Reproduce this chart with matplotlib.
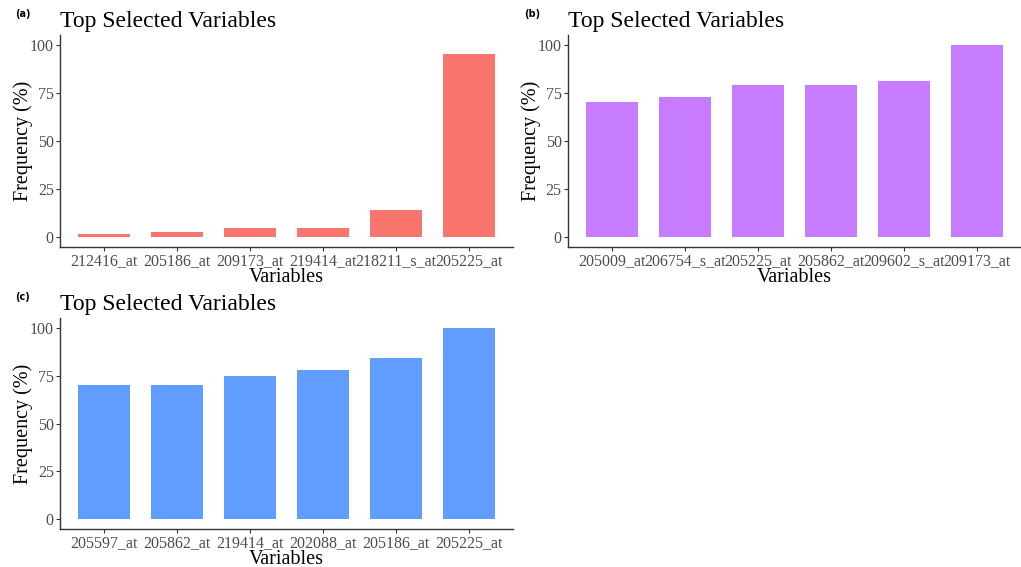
import numpy as np
import matplotlib
matplotlib.use('Agg')
import matplotlib.pyplot as plt

plt.rcParams['font.family'] = ['Liberation Serif', 'DejaVu Serif']

# ── Data ──
vars_a = ['212416_at', '205186_at', '209173_at', '219414_at', '218211_s_at', '205225_at']
freq_a = [2, 3, 5, 5, 14, 95]

vars_b = ['205009_at', '206754_s_at', '205225_at', '205862_at', '209602_s_at', '209173_at']
freq_b = [70, 73, 79, 79, 81, 100]

vars_c = ['205597_at', '205862_at', '219414_at', '202088_at', '205186_at', '205225_at']
freq_c = [70, 70, 75, 78, 84, 100]

W, H = 1021, 567
fig = plt.figure(figsize=(W / 100, H / 100), dpi=100)


def px_axes(x0, y0, x1, y1):
    # pixel box (top-left origin) -> figure fraction
    return fig.add_axes([x0 / W, 1 - y1 / H, (x1 - x0) / W, (y1 - y0) / H])


def panel(ax, names, vals, color, tag, tag_x, tag_y):
    pos = np.arange(1, len(names) + 1)
    ax.bar(pos, vals, width=0.71, color=color)
    ax.set_xlim(0.4, len(names) + 0.6)
    ax.set_ylim(-5, 105)
    ax.set_xticks(pos)
    ax.set_xticklabels(names, fontsize=11.5, color='#4D4D4D')
    ax.set_yticks([0, 25, 50, 75, 100])
    ax.set_yticklabels(['0', '25', '50', '75', '100'], fontsize=11.5, color='#4D4D4D')
    ax.tick_params(length=3, width=0.8, color='#333333', pad=1.5)
    for s in ['top', 'right']:
        ax.spines[s].set_visible(False)
    for s in ['left', 'bottom']:
        ax.spines[s].set_color('#333333')
        ax.spines[s].set_linewidth(1.0)
    ax.set_xlabel('Variables', fontsize=14.5, labelpad=-1)
    ax.set_ylabel('Frequency (%)', fontsize=14.5, labelpad=-2)
    ax.set_title('Top Selected Variables', fontsize=17, loc='left', pad=6)
    fig.text(tag_x / W, 1 - tag_y / H, tag, fontsize=7, fontweight='bold',
             family='DejaVu Sans', ha='left', va='center')


ax_a = px_axes(60, 35, 513, 247)
panel(ax_a, vars_a, freq_a, '#F8766D', '(a)', 15, 14)

ax_b = px_axes(568, 35, 1021, 247)
panel(ax_b, vars_b, freq_b, '#C77CFF', '(b)', 524, 14)

ax_c = px_axes(60, 318, 513, 529)
panel(ax_c, vars_c, freq_c, '#619CFF', '(c)', 15, 297)

fig.savefig('out.png', dpi=100)
